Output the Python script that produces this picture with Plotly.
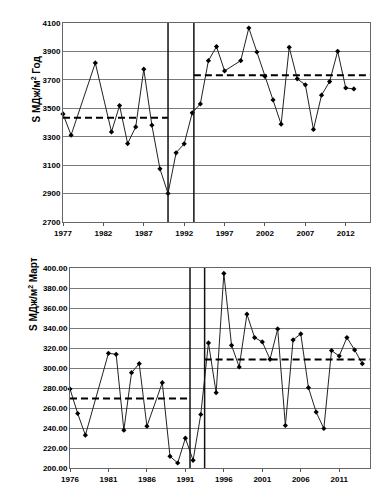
import plotly.graph_objects as go

# ---- Top chart (annual) ----
years_top = [1977, 1978, 1981, 1983, 1984, 1985, 1986, 1987, 1988, 1989, 1990, 1991,
             1992, 1993, 1994, 1995, 1996, 1997, 1999, 2000, 2001, 2002, 2003, 2004,
             2005, 2006, 2007, 2008, 2009, 2010, 2011, 2012, 2013]
vals_top = [3460, 3311, 3819, 3334, 3519, 3252, 3369, 3775, 3381, 3074, 2901, 3187,
            3250, 3468, 3531, 3835, 3934, 3763, 3835, 4065, 3896, 3725, 3559, 3388,
            3929, 3707, 3665, 3351, 3592, 3688, 3901, 3643, 3636]
mean_top = [3433, 3732]
mean_top_x = [[1977, 1990], [1993.2, 2015]]
breaks_top = [1990, 1993.2]

# ---- Bottom chart (March) ----
years_bot = [1976, 1977, 1978, 1981, 1982, 1983, 1984, 1985, 1986, 1988, 1989, 1990,
             1991, 1992, 1993, 1994, 1995, 1996, 1997, 1998, 1999, 2000, 2001, 2002,
             2003, 2004, 2005, 2006, 2007, 2008, 2009, 2010, 2011, 2012, 2013, 2014]
vals_bot = [279.0, 254.5, 232.8, 314.7, 313.7, 237.8, 295.3, 304.3, 241.8, 285.3, 211.7, 205.0,
            229.8, 207.7, 253.5, 325.1, 275.3, 394.6, 322.7, 301.0, 353.8, 330.4, 326.1, 308.7,
            339.1, 242.5, 328.1, 334.1, 280.3, 255.9, 239.5, 317.4, 312.0, 330.4, 318.1, 304.3]
mean_bot = [269.6, 308.4]
mean_bot_x = [[1976, 1991.6], [1993.5, 2015]]
breaks_bot = [1991.6, 1993.5]

W, H = 381, 489
fig = go.Figure()

def add_panel(years, vals, means, means_x, breaks, yr, xa, ya):
    fig.add_trace(go.Scatter(x=years, y=vals, mode="lines+markers",
                             line=dict(color="#222", width=1),
                             marker=dict(symbol="diamond", size=4, color="black"),
                             cliponaxis=False, xaxis=xa, yaxis=ya, showlegend=False))
    for m, mx in zip(means, means_x):
        fig.add_trace(go.Scatter(x=mx, y=[m, m], mode="lines",
                                 line=dict(color="black", width=2, dash="7px,4px"),
                                 xaxis=xa, yaxis=ya, showlegend=False, hoverinfo="skip"))
    for b in breaks:
        fig.add_trace(go.Scatter(x=[b, b], y=yr, mode="lines",
                                 line=dict(color="#111", width=1.5),
                                 xaxis=xa, yaxis=ya, showlegend=False, hoverinfo="skip"))

add_panel(years_top, vals_top, mean_top, mean_top_x, breaks_top, [2700, 4100], "x", "y")
add_panel(years_bot, vals_bot, mean_bot, mean_bot_x, breaks_bot, [200, 400], "x2", "y2")

tf = dict(family="Arial", size=8, color="black", weight=700)
common_x = dict(dtick=5, ticks="outside", ticklen=3, tickcolor="#555", tickfont=tf,
                showgrid=False, showline=True, linecolor="#666", linewidth=1, mirror=True,
                zeroline=False, automargin=False)
common_y = dict(ticks="", tickfont=tf, showgrid=True, gridcolor="#7a7a7a", gridwidth=1,
                showline=True, linecolor="#666", linewidth=1, mirror=True,
                zeroline=False, automargin=False)

fig.update_layout(
    width=W, height=H, margin=dict(l=0, r=0, t=0, b=0),
    paper_bgcolor="white", plot_bgcolor="white",
    xaxis=dict(domain=[55 / W, 362 / W], range=[1977, 2015], tick0=1977, anchor="y", **common_x),
    yaxis=dict(domain=[1 - 214 / H, 1 - 15 / H], range=[2700, 4100], tick0=2700, dtick=200,
               anchor="x", **common_y),
    xaxis2=dict(domain=[62 / W, 362 / W], range=[1976, 2015], tick0=1976, anchor="y2", **common_x),
    yaxis2=dict(domain=[1 - 460 / H, 1 - 260 / H], range=[200, 400], tick0=200, dtick=20,
                tickformat=".2f", anchor="x2", **common_y),
    annotations=[
        dict(text="S МДж/м<sup>2</sup> Год", x=20 / W, y=1 - 46 / H, xref="paper", yref="paper",
             textangle=-90, showarrow=False, font=dict(family="Arial", size=10, color="black", weight=700)),
        dict(text="S МДж/м<sup>2</sup> Март", x=17 / W, y=1 - 286 / H, xref="paper", yref="paper",
             textangle=-90, showarrow=False, font=dict(family="Arial", size=10, color="black", weight=700)),
    ],
)

fig.write_html("out.html")
